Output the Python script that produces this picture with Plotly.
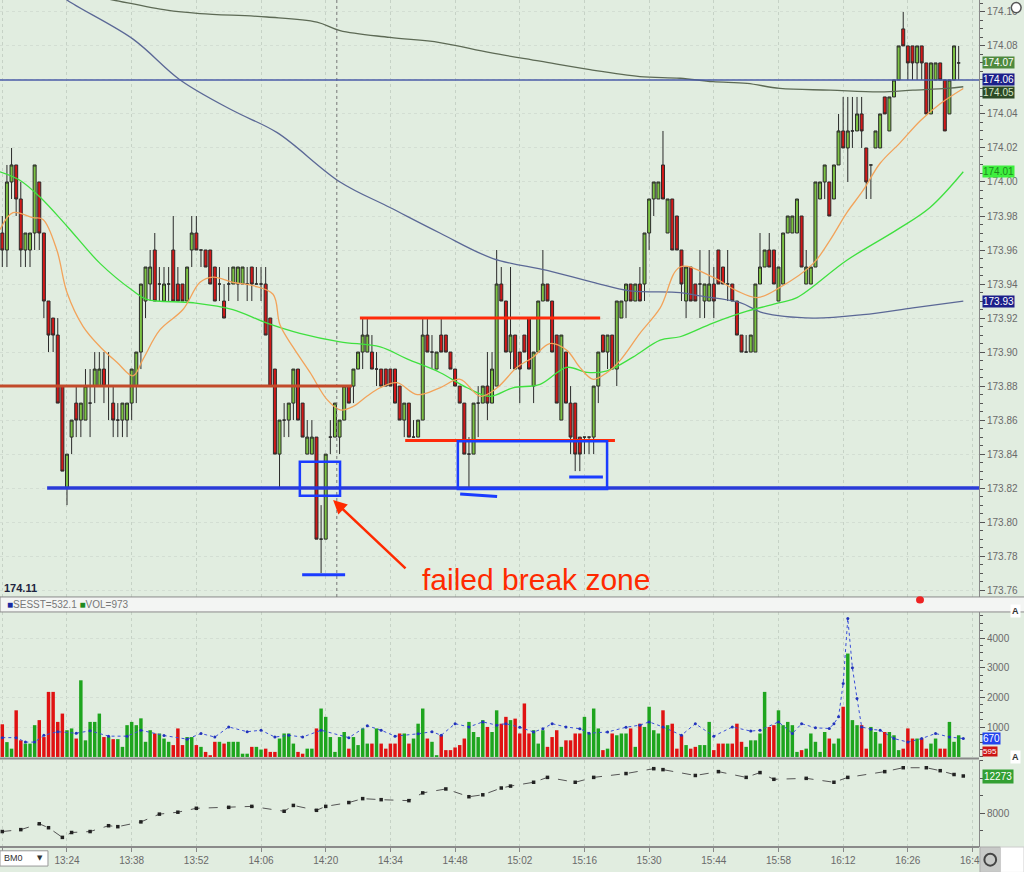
import pandas as pd
import plotly.graph_objects as go

# ---------------- data ----------------
start_time = "2024-01-02 13:10"

opens = [173.97,173.96,174.00,174.01,173.99,173.96,173.96,173.97,174.00,173.97,
         173.93,173.92,173.91,173.88,173.82,173.85,173.87,173.86,173.86,173.87,
         173.88,173.88,173.89,173.88,173.87,173.86,173.86,173.86,173.87,173.88,
         173.90,173.93,173.94,173.96,173.94,173.93,173.94,173.96,173.94,173.94,
         173.93,173.96,173.97,173.96,173.96,173.96,173.95,173.94,173.93,173.94,
         173.94,173.94,173.94,173.94,173.95,173.94,173.94,173.94,173.92,173.89,
         173.84,173.86,173.86,173.87,173.89,173.87,173.84,173.84,173.85,173.79,
         173.79,173.85,173.85,173.85,173.86,173.88,173.88,173.89,173.90,173.90,
         173.90,173.89,173.89,173.89,173.89,173.89,173.88,173.86,173.87,173.85,
         173.85,173.86,173.91,173.90,173.89,173.91,173.91,173.90,173.89,173.88,
         173.87,173.84,173.84,173.87,173.87,173.88,173.87,173.88,173.94,173.93,
         173.90,173.91,173.90,173.91,173.92,173.88,173.90,173.93,173.94,173.93,
         173.91,173.86,173.90,173.87,173.87,173.85,173.85,173.85,173.85,173.88,
         173.91,173.90,173.91,173.89,173.92,173.93,173.94,173.93,173.94,173.94,
         173.97,173.99,173.99,174.01,173.97,173.99,173.98,173.96,173.93,173.95,
         173.94,173.94,173.93,173.93,173.94,173.96,173.95,173.94,173.94,173.93,
         173.91,173.90,173.90,173.90,173.94,173.95,173.96,173.96,173.93,173.94,
         173.97,173.97,173.97,173.98,173.94,173.94,173.95,173.99,174.00,174.00,
         173.99,174.01,174.03,174.02,174.03,174.03,174.04,174.02,174.01,174.02,
         174.02,174.05,174.03,174.05,174.06,174.09,174.08,174.08,174.07,174.08,
         174.07,174.04,174.06,174.07,174.06,174.04,174.06,174.07]
highs = [173.98,174.01,174.02,174.01,174.00,173.97,173.97,174.01,174.00,173.97,
         173.93,173.92,173.92,173.88,173.84,173.86,173.88,173.87,173.89,173.89,
         173.90,173.90,173.90,173.90,173.88,173.87,173.87,173.87,173.89,173.90,
         173.94,173.95,173.96,173.97,173.95,173.95,173.95,173.98,173.95,173.94,
         173.95,173.98,173.98,173.96,173.96,173.96,173.95,173.95,173.94,173.95,
         173.95,173.95,173.95,173.95,173.95,173.95,173.95,173.95,173.92,173.89,
         173.86,173.87,173.87,173.89,173.89,173.87,173.86,173.86,173.85,173.81,
         173.84,173.86,173.87,173.86,173.88,173.88,173.89,173.90,173.92,173.92,
         173.91,173.90,173.89,173.89,173.89,173.89,173.88,173.87,173.87,173.86,
         173.86,173.92,173.92,173.91,173.90,173.92,173.91,173.90,173.89,173.88,
         173.87,173.85,173.87,173.88,173.88,173.90,173.90,173.96,173.95,173.93,
         173.95,173.91,173.90,173.91,173.92,173.90,173.93,173.96,173.94,173.93,
         173.91,173.91,173.90,173.88,173.87,173.85,173.85,173.85,173.88,173.90,
         173.91,173.91,173.91,173.93,173.93,173.94,173.94,173.94,173.95,173.97,
         173.99,174.00,174.00,174.03,173.99,173.99,173.98,173.96,173.95,173.95,
         173.94,173.96,173.94,173.96,173.95,173.96,173.95,173.96,173.94,173.93,
         173.91,173.91,173.91,173.94,173.97,173.96,173.97,173.96,173.95,173.97,
         173.98,173.98,173.99,173.98,173.96,173.95,174.00,174.00,174.01,174.00,
         174.01,174.04,174.05,174.05,174.05,174.05,174.05,174.02,174.01,174.03,
         174.04,174.05,174.05,174.06,174.08,174.10,174.08,174.08,174.08,174.08,
         174.07,174.07,174.07,174.07,174.06,174.06,174.08,174.08]
lows = [173.95,173.95,173.99,173.98,173.95,173.95,173.95,173.96,173.96,173.92,
        173.90,173.90,173.87,173.83,173.81,173.84,173.85,173.85,173.86,173.85,
        173.87,173.88,173.87,173.86,173.85,173.85,173.85,173.85,173.86,173.87,
        173.89,173.92,173.93,173.93,173.93,173.93,173.93,173.93,173.93,173.93,
        173.93,173.95,173.96,173.95,173.95,173.94,173.93,173.93,173.92,173.93,
        173.94,173.93,173.94,173.93,173.93,173.94,173.93,173.91,173.88,173.84,
        173.82,173.85,173.85,173.86,173.86,173.85,173.84,173.84,173.79,173.77,
        173.79,173.84,173.85,173.84,173.86,173.87,173.87,173.89,173.89,173.90,
        173.89,173.88,173.88,173.88,173.88,173.87,173.86,173.85,173.85,173.85,
        173.85,173.86,173.90,173.89,173.89,173.90,173.90,173.89,173.88,173.87,
        173.84,173.82,173.84,173.85,173.87,173.86,173.87,173.88,173.93,173.90,
        173.89,173.89,173.87,173.90,173.89,173.87,173.90,173.93,173.93,173.90,
        173.87,173.86,173.87,173.84,173.83,173.83,173.84,173.84,173.84,173.87,
        173.90,173.89,173.89,173.88,173.92,173.92,173.93,173.93,173.93,173.93,
        173.96,173.98,173.99,173.99,173.97,173.96,173.96,173.93,173.92,173.93,
        173.93,173.92,173.92,173.93,173.92,173.94,173.94,173.93,173.93,173.91,
        173.90,173.90,173.90,173.90,173.94,173.95,173.95,173.94,173.93,173.94,
        173.97,173.97,173.97,173.95,173.94,173.94,173.95,173.99,173.99,173.98,
        173.99,174.01,174.02,174.00,174.02,174.03,174.02,173.99,173.99,174.02,
        174.02,174.04,174.03,174.05,174.06,174.08,174.06,174.06,174.06,174.06,
        174.04,174.04,174.06,174.06,174.03,174.04,174.06,174.06]
closes = [173.96,174.00,174.01,173.99,173.96,173.97,173.97,174.01,173.97,173.93,
          173.91,173.91,173.87,173.83,173.84,173.86,173.86,173.87,173.88,173.87,
          173.89,173.89,173.88,173.88,173.86,173.86,173.87,173.87,173.89,173.90,
          173.94,173.95,173.95,173.93,173.94,173.94,173.94,173.93,173.93,173.93,
          173.95,173.97,173.96,173.96,173.95,173.94,173.93,173.94,173.92,173.94,
          173.95,173.95,173.95,173.94,173.94,173.94,173.94,173.91,173.88,173.84,
          173.86,173.86,173.87,173.89,173.86,173.85,173.85,173.85,173.79,173.79,
          173.84,173.85,173.87,173.86,173.88,173.87,173.89,173.90,173.91,173.91,
          173.89,173.89,173.88,173.88,173.88,173.87,173.86,173.87,173.85,173.85,
          173.86,173.91,173.90,173.90,173.90,173.90,173.90,173.89,173.88,173.87,
          173.84,173.84,173.87,173.87,173.88,173.87,173.89,173.94,173.93,173.90,
          173.91,173.89,173.89,173.90,173.89,173.90,173.93,173.94,173.93,173.90,
          173.87,173.91,173.87,173.85,173.84,173.84,173.85,173.85,173.88,173.90,
          173.90,173.91,173.89,173.93,173.93,173.94,173.93,173.94,173.93,173.97,
          173.99,174.00,174.00,173.99,173.99,173.96,173.96,173.94,173.95,173.93,
          173.93,173.94,173.94,173.94,173.93,173.94,173.94,173.94,173.93,173.91,
          173.90,173.90,173.91,173.94,173.95,173.96,173.95,173.94,173.95,173.97,
          173.98,173.98,173.99,173.95,173.95,173.95,174.00,174.00,174.01,173.98,
          174.01,174.03,174.02,174.03,174.03,174.04,174.03,174.00,174.01,174.03,
          174.04,174.04,174.05,174.06,174.08,174.08,174.07,174.07,174.08,174.07,
          174.04,174.07,174.07,174.06,174.03,174.06,174.08,174.07]
volumes = [1100,500,280,1570,560,450,450,1070,1240,670,
           2190,2190,1180,1460,900,960,620,2580,560,1180,
           1180,1460,670,670,600,600,340,1070,1180,1070,
           1300,510,900,790,790,620,510,400,960,400,
           670,670,400,340,170,60,510,510,450,510,
           510,510,110,110,340,340,250,280,170,170,
           620,790,790,450,170,110,280,280,960,1630,
           1350,670,170,670,840,280,670,400,960,450,
           450,960,450,280,450,450,790,790,450,620,
           1120,1630,620,510,60,730,230,230,320,400,
           620,1180,840,670,1240,1010,840,1570,1120,1350,
           1240,1290,790,1800,790,900,450,900,340,670,
           900,340,560,560,790,790,1350,790,1630,960,
           230,280,790,730,790,790,960,340,1120,1010,
           1690,900,790,1570,1070,1120,280,730,400,280,
           340,400,400,1180,230,450,450,450,450,1120,
           510,340,560,560,790,2190,1010,1070,1570,1070,
           1180,1070,170,230,280,790,510,170,840,620,
           450,620,1690,3480,1240,1070,1070,280,1010,840,
           450,840,840,730,230,280,960,620,620,620,
           280,450,620,280,280,1180,510,730]

# moving averages: minute offset from 13:10 and price
ma_slow_min = [20.1,24.0,35.6,42.8,57.3,68.1,73.1,83.9,94.7,105.6,116.4,127.2,138.0,146.7,
               153.8,161.2,168.3,179.2,190.0,197.1,204.5,208.0]
ma_slow_val = [174.109,174.107,174.101,174.099,174.097,174.094,174.089,174.085,174.082,174.076,
               174.071,174.066,174.062,174.061,174.059,174.058,174.055,174.054,174.053,174.054,
               174.055,174.056]
ma_mid_min = [11.4,14.0,28.3,38.5,49.9,59.5,73.1,83.9,94.7,106.2,117.9,127.9,135.9,146.7,151.0,
              159.7,164.7,175.5,186.3,197.1,208.0]
ma_mid_val = [174.113,174.107,174.084,174.060,174.042,174.029,174.000,173.985,173.970,173.955,
              173.948,173.941,173.936,173.935,173.933,173.929,173.923,173.920,173.922,173.926,173.930]
ma_green_min = [-0.5,3.8,8.2,14.0,21.2,28.3,31.3,41.3,49.9,57.3,64.4,73.1,81.8,87.6,94.7,100.6,
                105.6,110.5,116.4,122.2,126.6,130.9,136.5,142.4,146.7,153.8,161.2,168.3,172.0,
                182.8,193.7,200.8,208.0]
ma_green_val = [174.006,174.001,173.991,173.974,173.952,173.936,173.931,173.929,173.925,173.917,
                173.911,173.906,173.903,173.896,173.888,173.879,173.874,173.879,173.881,173.891,
                173.888,173.889,173.897,173.907,173.909,173.917,173.924,173.929,173.932,173.954,
                173.972,173.985,174.006]
ma_orange_min = [-0.5,2.3,6.6,8.8,11.8,14.0,17.5,21.2,24.8,28.3,30.5,34.1,39.1,42.8,45.6,49.9,
                 54.3,58.6,60.1,62.9,66.6,70.3,73.1,75.9,78.9,81.8,85.4,89.8,94.7,99.1,103.4,
                 107.1,111.4,114.9,118.5,122.2,125.0,127.9,130.9,133.7,138.0,142.4,146.7,153.8,
                 159.0,163.4,168.3,175.5,179.2,182.8,186.3,190.0,194.3,198.7,203.0,208.0]
ma_orange_val = [173.972,173.982,173.979,173.978,173.960,173.935,173.915,173.903,173.894,173.886,
                 173.896,173.913,173.925,173.941,173.944,173.941,173.939,173.934,173.916,173.903,
                 173.888,173.872,173.866,173.868,173.874,173.879,173.882,173.875,173.879,173.884,
                 173.874,173.879,173.891,173.897,173.905,173.901,173.891,173.884,173.888,173.895,
                 173.911,173.926,173.950,173.944,173.936,173.932,173.938,173.952,173.966,173.982,
                 173.995,174.011,174.023,174.036,174.046,174.055]

# volume average line (blue dotted)
vavg_min = [0,3,5,7,9,12,16,19,23,27,30,35,40,43,46,49,53,56,59,62,65,69,75,79,82,85,90,93,95,
            98,101,104,107,109,112,115,117,119,122,125,127,131,135,138,140,143,147,150,154,158,
            162,164,168,171,173,176,179,180,181,182,183,184,185,186,188,190,193,196,199,202,205,208]
vavg_val = [650,650,500,500,730,850,800,880,700,700,900,720,600,790,670,1010,850,900,670,730,670,
            900,650,1050,900,700,780,850,730,1120,1010,1180,1070,1120,1000,840,950,1120,1010,950,
            800,840,1000,1070,1180,1010,730,1120,700,1010,870,900,1180,790,1120,980,960,1120,1350,
            2470,4660,3000,1970,1010,930,900,620,500,620,790,670,620]

# lower indicator panel
ind_min = [0,4,8,10,13,15,19,23,25,30,34,38,42,49,54,61,63,68,70,75,78,82,88,91,96,101,104,108,
           110,115,118,124,128,135,141,143,150,155,161,164,167,174,180,183,191,195,200,203,206,208]
ind_val = [5890,6110,6780,6330,5220,5780,5890,6560,6450,7000,7890,8110,8560,8670,8780,8220,8890,
           8330,8780,9220,9670,9550,9440,10330,10780,9890,10110,10890,11110,11550,12110,11550,
           12110,12550,13110,13000,12330,12770,12110,12660,11890,12000,11550,12110,12770,13220,
           13220,12880,12440,12270]

# price axis labels (the 174.06 label sits under its value flag)
price_ticks = [173.76,173.78,173.80,173.82,173.84,173.86,173.88,173.90,173.92,173.94,
               173.96,173.98,174.00,174.02,174.04,174.06,174.08,174.10]
price_tick_text = ["173.76","173.78","173.80","173.82","173.84","173.86","173.88","173.90",
                   "173.92","173.94","173.96","173.98","174.00","174.02","174.04","","174.08","174.10"]

# reference levels
level_blue = 173.82
level_navy = 174.06
level_brown = 173.88
level_red_top = 173.92
level_red_low = 173.848

# ---------------- helpers ----------------
t0 = pd.Timestamp(start_time)
times = pd.date_range(t0, periods=len(closes), freq="1min")


def T(m):
    return t0 + pd.Timedelta(minutes=m)


# ---------------- figure ----------------
BG = "#e1ede0"
GREEN_C = "#7cc343"
RED_C = "#d21818"
fig = go.Figure()

fig.add_trace(go.Candlestick(
    x=times, open=opens, high=highs, low=lows, close=closes,
    increasing=dict(fillcolor=GREEN_C, line=dict(color="#2b2b2b", width=1)),
    decreasing=dict(fillcolor=RED_C, line=dict(color="#2b2b2b", width=1)),
    whiskerwidth=0, showlegend=False, hoverinfo="skip", xaxis="x", yaxis="y"))

for mins, vals, col in [(ma_slow_min, ma_slow_val, "#5d6a55"),
                        (ma_mid_min, ma_mid_val, "#5b6896"),
                        (ma_green_min, ma_green_val, "#3fe03f"),
                        (ma_orange_min, ma_orange_val, "#f2a35a")]:
    fig.add_trace(go.Scatter(x=[T(m) for m in mins], y=vals, mode="lines",
                             line=dict(color=col, width=1.3, shape="spline"),
                             showlegend=False, hoverinfo="skip", xaxis="x", yaxis="y"))

vol_colors = ["#1ea51e" if c >= o else "#e01212" for o, c in zip(opens, closes)]
fig.add_trace(go.Bar(x=times, y=volumes, marker=dict(color=vol_colors, line=dict(width=0)),
                     width=0.75 * 60000, showlegend=False, hoverinfo="skip",
                     xaxis="x", yaxis="y2"))
fig.add_trace(go.Scatter(x=[T(m) for m in vavg_min], y=vavg_val, mode="lines+markers",
                         line=dict(color="#3b4fd8", width=1, dash="dot"),
                         marker=dict(size=3, color="#2233bb"),
                         showlegend=False, hoverinfo="skip", xaxis="x", yaxis="y2"))

fig.add_trace(go.Scatter(x=[T(m) for m in ind_min], y=ind_val, mode="lines+markers",
                         line=dict(color="#555555", width=1, dash="dash"),
                         marker=dict(size=3.5, symbol="square", color="#222222"),
                         showlegend=False, hoverinfo="skip", xaxis="x", yaxis="y3"))

# ---------------- layout ----------------
tick_font = dict(family="Liberation Sans", size=10, color="#6a6a6a")
fig.update_layout(
    width=1024, height=872,
    margin=dict(l=0, r=45, t=0, b=25),
    paper_bgcolor=BG, plot_bgcolor=BG,
    showlegend=False,
    boxgap=0.08,
    xaxis=dict(type="date", range=[T(-0.5), T(211.4)], anchor="y3",
               rangeslider=dict(visible=False),
               tick0=T(14), dtick=14 * 60000, tickformat="%H:%M",
               ticks="outside", ticklen=4, tickcolor="#888",
               tickfont=tick_font, showgrid=True, gridcolor="#c6d2c6", griddash="dot",
               gridwidth=1, zeroline=False, showline=False),
    yaxis=dict(domain=[0.2952, 1.0], range=[173.756, 174.107], side="right",
               tickvals=price_ticks, ticktext=price_tick_text, ticks="outside", ticklen=5,
               tickcolor="#555", tickfont=tick_font,
               minor=dict(dtick=0.005, ticklen=3, ticks="outside", tickcolor="#555", showgrid=False),
               showgrid=True, gridcolor="#d3ded3", griddash="dot",
               showline=True, linecolor="#888", linewidth=1, zeroline=False),
    yaxis2=dict(domain=[0.1063, 0.2775], range=[0, 4880], side="right",
                tickvals=[1000, 2000, 3000, 4000], ticks="outside", ticklen=5,
                tickcolor="#555", tickfont=tick_font,
                minor=dict(dtick=250, ticklen=3, ticks="outside", tickcolor="#555", showgrid=False),
                showgrid=True, gridcolor="#d3ded3", griddash="dot",
                showline=True, linecolor="#888", linewidth=1, zeroline=False),
    yaxis3=dict(domain=[0.0, 0.1027], range=[4115, 14105], side="right",
                tickvals=[8000], ticks="outside", ticklen=5,
                tickcolor="#555", tickfont=tick_font,
                minor=dict(dtick=2000, ticklen=3, ticks="outside", tickcolor="#555", showgrid=False),
                showgrid=False, showline=True, linecolor="#888", linewidth=1, zeroline=False),
)

shapes = []
# panel separators / strips
shapes.append(dict(type="rect", xref="paper", yref="paper", x0=0, x1=1.05, y0=0.2775, y1=0.2952,
                   fillcolor="#f3f5f3", line=dict(color="#8a8a8a", width=1), layer="above"))
shapes.append(dict(type="line", xref="paper", yref="paper", x0=0, x1=1.0, y0=0.1045, y1=0.1045,
                   line=dict(color="#8a8a8a", width=2), layer="above"))
shapes.append(dict(type="line", xref="paper", yref="paper", x0=0, x1=1.0, y0=0.0, y1=0.0,
                   line=dict(color="#8a8a8a", width=2), layer="above"))
# crosshair
shapes.append(dict(type="line", xref="x", yref="y", x0=T(72.4), x1=T(72.4), y0=173.756, y1=174.107,
                   line=dict(color="#777", width=1, dash="dot")))
# horizontal levels
shapes.append(dict(type="line", xref="x", yref="y", x0=T(-0.5), x1=T(211.4), y0=level_navy, y1=level_navy,
                   line=dict(color="#4a5ba8", width=1.5)))
shapes.append(dict(type="line", xref="x", yref="y", x0=T(-0.5), x1=T(75.7), y0=level_brown, y1=level_brown,
                   line=dict(color="#c24a2a", width=3)))
shapes.append(dict(type="line", xref="x", yref="y", x0=T(9.7), x1=T(211.4), y0=level_blue, y1=level_blue,
                   line=dict(color="#2a3bd8", width=3.5)))
shapes.append(dict(type="line", xref="x", yref="y", x0=T(77.4), x1=T(129.4), y0=level_red_top, y1=level_red_top,
                   line=dict(color="#ff2a0a", width=3)))
shapes.append(dict(type="line", xref="x", yref="y", x0=T(87.2), x1=T(132.6), y0=level_red_low, y1=level_red_low,
                   line=dict(color="#ff2a0a", width=3)))
# blue boxes
shapes.append(dict(type="rect", xref="x", yref="y", x0=T(64.4), x1=T(73.1), y0=173.8155, y1=173.8355,
                   line=dict(color="#1a3cff", width=2.5)))
shapes.append(dict(type="rect", xref="x", yref="y", x0=T(98.6), x1=T(130.9), y0=173.8195, y1=173.8475,
                   line=dict(color="#1a3cff", width=2.5)))
# blue dashes
for a, b, p1, p2 in [(64.9, 74.2, 173.769, 173.769), (99.1, 107.1, 173.8165, 173.815),
                     (122.7, 130.0, 173.8265, 173.8265)]:
    shapes.append(dict(type="line", xref="x", yref="y", x0=T(a), x1=T(b), y0=p1, y1=p2,
                       line=dict(color="#1a3cff", width=3)))
# red dot on strip
shapes.append(dict(type="circle", xref="paper", yref="paper", x0=0.9357, x1=0.9438, y0=0.2875, y1=0.2960,
                   fillcolor="#ee2222", line=dict(width=0), layer="above"))
# bottom-left selector box
shapes.append(dict(type="rect", xref="paper", yref="paper", x0=0.0, x1=0.049, y0=-0.0225, y1=-0.0045,
                   fillcolor="#ffffff", line=dict(color="#999", width=1), layer="above"))
# bottom-right buttons
shapes.append(dict(type="rect", xref="paper", yref="paper", x0=1.001, x1=1.022, y0=-0.03, y1=0.0,
                   fillcolor="#c8cac8", line=dict(color="#aaa", width=1), layer="above"))
shapes.append(dict(type="rect", xref="paper", yref="paper", x0=1.022, x1=1.046, y0=-0.03, y1=0.0,
                   fillcolor="#ffffff", line=dict(color="#ccc", width=1), layer="above"))
shapes.append(dict(type="circle", xref="paper", yref="paper", x0=1.0055, x1=1.0175, y0=-0.022, y1=-0.008,
                   line=dict(color="#444", width=2), layer="above"))
# top-right small icon
shapes.append(dict(type="circle", xref="paper", yref="paper", x0=1.033, x1=1.043, y0=0.985, y1=0.997,
                   line=dict(color="#555", width=1.5), fillcolor="#ffffff", layer="above"))
fig.update_layout(shapes=shapes)

ann = []
# arrow and label
ann.append(dict(x=T(71.6), y=173.813, xref="x", yref="y", ax=T(87.6), ay=173.772,
                axref="x", ayref="y", text="", showarrow=True, arrowhead=2, arrowsize=1.1,
                arrowwidth=2.5, arrowcolor="#ff2a00"))
ann.append(dict(x=T(115.6), y=173.7665, xref="x", yref="y", text="failed break zone",
                showarrow=False, font=dict(family="Liberation Sans", size=30, color="#ff2a00")))
ann.append(dict(x=0.002, y=173.7615, xref="paper", yref="y", text="<b>174.11</b>", xanchor="left",
                showarrow=False, font=dict(family="Liberation Sans", size=11, color="#1e2440")))
# legend strip
ann.append(dict(x=0.005, y=0.2863, xref="paper", yref="paper", xanchor="left", yanchor="middle",
                text="<span style='color:#1a2aa0'>■</span>SESST=532.1 <span style='color:#1e8a1e'>■</span>VOL=973",
                showarrow=False, font=dict(family="Liberation Sans", size=10, color="#777")))
# price-axis value flags
for val, txt, bg, fg in [(174.0705, "174.07", "#4e8a3e", "#ffffff"),
                         (174.0605, "174.06", "#1c1f8a", "#ffffff"),
                         (174.0525, "174.05", "#2c4a26", "#d8e8c8"),
                         (174.006, "174.01", "#3ef03e", "#1f8a1f"),
                         (173.93, "173.93", "#1c1f8a", "#ffffff")]:
    ann.append(dict(x=1.0, y=val, xref="paper", yref="y", xanchor="left", yanchor="middle",
                    xshift=3, text=txt, showarrow=False, bgcolor=bg, borderpad=0,
                    font=dict(family="Liberation Sans", size=10, color=fg)))
# volume flags
ann.append(dict(x=1.0, y=610, xref="paper", yref="y2", xanchor="left", yanchor="middle", xshift=3,
                text="670", showarrow=False, bgcolor="#2244ee", borderpad=0,
                font=dict(family="Liberation Sans", size=10, color="#ffffff")))
ann.append(dict(x=1.0, y=180, xref="paper", yref="y2", xanchor="left", yanchor="middle", xshift=3,
                text="595", showarrow=False, bgcolor="#cc1414", borderpad=0,
                font=dict(family="Liberation Sans", size=8, color="#ffffff")))
ann.append(dict(x=1.0, y=12220, xref="paper", yref="y3", xanchor="left", yanchor="middle", xshift=3,
                text="12273", showarrow=False, bgcolor="#33a033", borderpad=1,
                font=dict(family="Liberation Sans", size=10, color="#ffffff")))
# small "A" markers
for yy in [0.2705, 0.0975]:
    ann.append(dict(x=1.043, y=yy, xref="paper", yref="paper", text="<b>A</b>", showarrow=False,
                    bgcolor="#ffffff", font=dict(family="Liberation Sans", size=9, color="#333")))
# selector text
ann.append(dict(x=0.002, y=-0.0135, xref="paper", yref="paper", xanchor="left", yanchor="middle",
                text="BM0", showarrow=False, font=dict(family="Liberation Sans", size=9, color="#333")))
ann.append(dict(x=0.041, y=-0.0135, xref="paper", yref="paper", xanchor="center", yanchor="middle",
                text="▼", showarrow=False, font=dict(family="DejaVu Sans", size=7, color="#333")))
fig.update_layout(annotations=ann)

fig.write_html("out.html", config={"displayModeBar": False},
               post_script="document.body.style.margin='0';")
